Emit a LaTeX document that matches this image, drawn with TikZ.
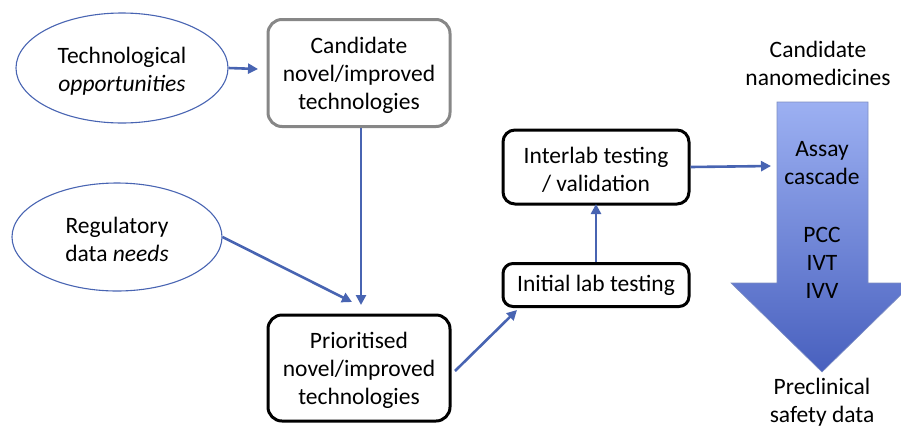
\documentclass[tikz,border=0pt]{standalone}
\usepackage{fontspec}
\setmainfont{Carlito}
\usetikzlibrary{shapes.geometric,arrows.meta}
\definecolor{linkblue}{RGB}{72,100,178}
\definecolor{shadetop}{RGB}{156,176,242}
\definecolor{shadebot}{RGB}{72,96,190}
\definecolor{boxgray}{RGB}{135,135,135}
\newcommand{\lowr}{\rule{0pt}{22pt}}
\tikzset{
  txt/.style={font=\fontsize{23.5}{28}\selectfont, align=center, inner sep=0pt},
  oval/.style={txt, ellipse, draw=linkblue, line width=1.1pt},
  rbox/.style={txt, draw=black, line width=3pt, rounded corners=14pt},
  gbox/.style={txt, draw=boxgray, line width=3pt, rounded corners=14pt},
  link/.style={draw=linkblue, line width=2.6pt, -{Triangle[length=10pt,width=10pt]}},
}
\begin{document}
\begin{tikzpicture}[x=1pt,y=-1pt]
\useasboundingbox (0,0) rectangle (901,429);
% big arrow
\path[top color=shadetop, bottom color=shadebot, draw=shadetop!80!black, line width=0.6pt]
  (777,102) -- (868,102) -- (868,283) -- (913,283) -- (822,372) -- (731,283) -- (777,283) -- cycle;
\node[txt] (cn) at (818,63) {Candidate\\nanomedicines};
\node[txt] (ac) at (822,163) {Assay\\cascade};
\node[txt] (pcc) at (822,263) {PCC\\IVT\\IVV};
\node[txt] (pre) at (822,402) {Preclinical\\safety data};
\coordinate (arrin) at (771,166);

\node[oval, minimum width=212pt, minimum height=110pt] (tech) at (122,68) {\lowr Technological\\\textit{opportunities}};
\node[oval, minimum width=210pt, minimum height=108pt] (reg) at (117,237) {\lowr Regulatory\\data \textit{needs}};
\node[gbox, minimum width=182pt, minimum height=107pt] (cand) at (359,73) {\lowr Candidate\\novel/improved\\technologies};
\node[rbox, minimum width=182pt, minimum height=106pt] (prio) at (359,368) {\lowr Prioritised\\novel/improved\\technologies};
\node[rbox, minimum width=186pt, minimum height=43pt, rounded corners=10pt] (init) at (596,285) {Initial lab testing};
\node[rbox, minimum width=186pt, minimum height=74pt, rounded corners=12pt] (inter) at (596,167) {\lowr Interlab testing\\/ validation};

\coordinate (c1) at (258,69);
\coordinate (c2) at (361,305);
\coordinate (c3) at (352,302);
\coordinate (c4) at (517,310);
\coordinate (c5) at (596,204);

\draw[link] (tech.east) -- (c1);
\draw[link] (cand.south -| c2) -- (c2);
\draw[link] (reg.east) -- (c3);
\draw[link] (455,371) -- (c4);
\draw[link] (init.north) -- (c5);
\draw[link] (inter.east) -- (arrin);
\end{tikzpicture}
\end{document}
